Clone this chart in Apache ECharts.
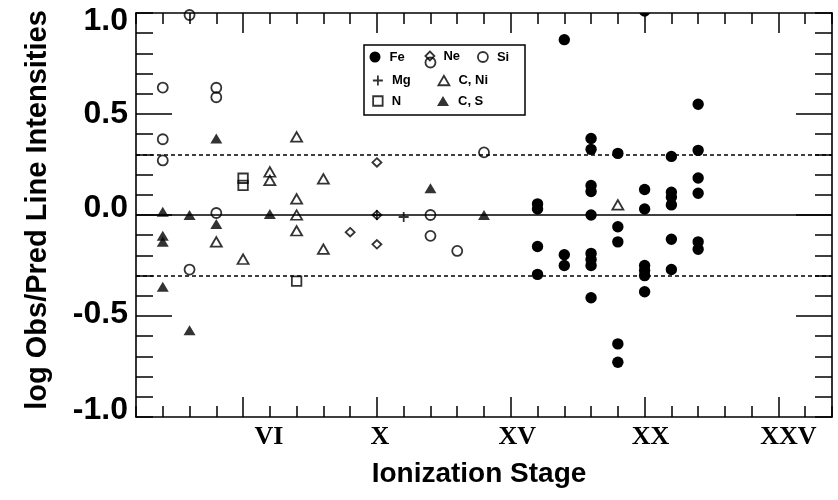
<!DOCTYPE html>
<html>
<head>
<meta charset="utf-8">
<script src="https://cdn.jsdelivr.net/npm/echarts@6/dist/echarts.min.js"></script>
<style>
  html, body { margin: 0; padding: 0; background: #fff; }
  #chart { width: 838px; height: 500px; }
</style>
</head>
<body>
<div id="chart"></div>
<script>
// log(observed / predicted) line intensity ratios, [ionization stage, ratio]
const feData = [
  [16, 0.055], [16, 0.03], [16, -0.156], [16, -0.294],
  [17, 0.868], [17, -0.197], [17, -0.25],
  [18, 0.379], [18, 0.325], [18, 0.146], [18, 0.116], [18, 0.0],
  [18, -0.19], [18, -0.22], [18, -0.25], [18, -0.41],
  [19, 0.305], [19, -0.058], [19, -0.133], [19, -0.638], [19, -0.729],
  [20, 1.01], [20, 0.126], [20, 0.03], [20, -0.25], [20, -0.275], [20, -0.30], [20, -0.38],
  [21, 0.29], [21, 0.113], [21, 0.088], [21, 0.05], [21, -0.12], [21, -0.27],
  [22, 0.548], [22, 0.32], [22, 0.183], [22, 0.108], [22, -0.133], [22, -0.17]
];
const neData = [[9, -0.085], [10, 0.26], [10, 0.0], [10, -0.145]];
const siData = [
  [2, 0.631], [2, 0.375], [2, 0.27], [3, 0.99], [3, -0.27],
  [4, 0.63], [4, 0.583], [4, 0.01], [12, 0.755], [12, 0.0], [12, -0.103],
  [13, -0.178], [14, 0.31]
];
const mgData = [[10, 0.0], [11, -0.01]];
const cNiData = [
  [4, -0.133], [5, -0.219], [6, 0.213], [6, 0.171], [7, 0.387], [7, 0.08],
  [7, 0.0], [7, -0.078], [8, 0.179], [8, -0.169], [19, 0.05]
];
const nData = [[5, 0.182], [5, 0.147], [7, -0.327]];
const cSData = [
  [2, 0.016], [2, -0.103], [2, -0.133], [2, -0.355], [3, 0.0], [3, -0.57],
  [4, 0.379], [4, -0.045], [6, 0.005], [12, 0.133], [14, 0.0]
];

// axis ticks and labels
const stageTicks = [6, 10, 15, 20, 25];
const stageLabels = ['VI', 'X', 'XV', 'XX', 'XXV'];
const majorStageTicks = [5, 10, 15, 20, 25];
const ratioTicks = [-1, -0.5, 0, 0.5, 1];
const majorRatioTicks = [-0.5, 0, 0.5];
const refLevels = [-0.3, 0, 0.3];

const INK = '#000';
const SANS = '"Liberation Sans", Arial, Helvetica, sans-serif';
const SERIF = '"Liberation Serif", "Times New Roman", serif';

// small per-label nudges (px) for the hand-placed tick labels
const stageShift = [-1, 3, 6.5, 6, 10];
const ratioShift = [-7, -2, -7, 0, 8];

const stageRich = {};
stageTicks.forEach((v, i) => {
  const s = stageShift[i];
  stageRich['s' + i] = { padding: s >= 0 ? [0, 0, 0, 2 * s] : [0, -2 * s, 0, 0] };
});
const ratioRich = {};
ratioTicks.forEach((v, i) => {
  const s = ratioShift[i];
  ratioRich['r' + i] = { padding: s >= 0 ? [2 * s, 0, 0, 0] : [0, 0, -2 * s, 0] };
});
const idxOf = (arr, v) => arr.findIndex(t => Math.abs(t - v) < 1e-9);

const lineStyle = { color: INK, width: 1.6 };
const tickStyle = { color: INK, width: 1.5 };
const X_RANGE = { min: 1, max: 27 };
const Y_RANGE = { min: -1, max: 1 };

function frameAxis(position, range, interval, tickLen, withLine) {
  return {
    type: 'value', position, ...range, interval,
    axisLine: { show: withLine, onZero: false, lineStyle },
    axisTick: { show: true, inside: true, length: tickLen, lineStyle: tickStyle },
    axisLabel: { show: false },
    splitLine: { show: false }
  };
}
function majorAxis(position, range, values, tickLen) {
  return {
    type: 'value', position, ...range,
    axisLine: { show: false, onZero: false },
    axisTick: { show: true, inside: true, length: tickLen, customValues: values, lineStyle: tickStyle },
    axisLabel: { show: false },
    splitLine: { show: false }
  };
}

const bottomAxis = frameAxis('bottom', X_RANGE, 1, 11, true);
bottomAxis.axisLabel = {
  show: true,
  customValues: stageTicks,
  margin: 7,
  fontFamily: SERIF, fontWeight: 'bold', fontSize: 26, color: INK,
  formatter: v => {
    const i = idxOf(stageTicks, v);
    return '{s' + i + '|' + stageLabels[i] + '}';
  },
  rich: stageRich
};
bottomAxis.name = 'Ionization Stage';
bottomAxis.nameLocation = 'middle';
bottomAxis.nameGap = 43;
bottomAxis.nameTextStyle = {
  fontFamily: SANS, fontWeight: 'bold', fontSize: 28, color: INK, padding: [0, 10, 0, 0]
};

const leftAxis = frameAxis('left', Y_RANGE, 0.1, 17, true);
leftAxis.axisLabel = {
  show: true,
  customValues: ratioTicks,
  margin: 8,
  fontFamily: SANS, fontWeight: 'bold', fontSize: 32, color: INK,
  formatter: v => {
    const i = idxOf(ratioTicks, v);
    return '{r' + i + '|' + v.toFixed(1) + '}';
  },
  rich: ratioRich
};
leftAxis.name = 'log Obs/Pred Line Intensities';
leftAxis.nameLocation = 'middle';
leftAxis.nameGap = 84;
leftAxis.nameTextStyle = {
  fontFamily: SANS, fontWeight: 'bold', fontSize: 29, color: INK, padding: [0, 0, 0, 10]
};

const hollow = { color: 'transparent', borderColor: INK, borderWidth: 1.8 };
const solid = { color: INK, borderWidth: 0 };
const PLUS = 'path://M0,5L10,5M5,0L5,10';

const legendText = {
  fontFamily: SANS, fontWeight: 'bold', fontSize: 13, color: INK,
  lineHeight: 14, padding: [0, 0, 0, 4]
};
function legendAt(name, cx, cy, icon, itemStyle, w, h) {
  return {
    data: [{ name, icon, itemStyle }],
    left: cx - w / 2, top: cy - 7,
    itemWidth: w, itemHeight: h,
    padding: 0, selectedMode: false,
    textStyle: legendText
  };
}

const option = {
  animation: false,
  backgroundColor: '#fff',
  grid: { left: 136, right: 6, top: 13, bottom: 83, containLabel: false },
  xAxis: [
    bottomAxis,
    majorAxis('bottom', X_RANGE, majorStageTicks, 20),
    frameAxis('top', X_RANGE, 1, 11, true),
    majorAxis('top', X_RANGE, majorStageTicks, 20)
  ],
  yAxis: [
    leftAxis,
    majorAxis('left', Y_RANGE, majorRatioTicks, 36),
    frameAxis('right', Y_RANGE, 0.1, 17, true),
    majorAxis('right', Y_RANGE, majorRatioTicks, 36)
  ],
  legend: [
    legendAt('Fe', 375, 57, 'circle', solid, 11, 11),
    legendAt('Ne', 429, 56, 'diamond', hollow, 9, 9),
    legendAt('Si', 482, 57, 'circle', hollow, 10, 10),
    legendAt('Mg', 377, 80.5, PLUS, hollow, 10, 10),
    legendAt('C, Ni', 443, 80.5, 'triangle', hollow, 11, 9.5),
    legendAt('N', 377, 101, 'rect', hollow, 9.5, 9.5),
    legendAt('C, S', 443, 101, 'triangle', solid, 12, 10)
  ],
  graphic: [{
    type: 'rect',
    shape: { x: 364, y: 45, width: 161, height: 70 },
    style: { fill: 'none', stroke: INK, lineWidth: 1.5 },
    silent: true
  }],
  series: [
    {
      name: 'Si', type: 'scatter', data: siData,
      symbol: 'circle', symbolSize: 10, itemStyle: hollow,
      markLine: {
        silent: true, symbol: ['none', 'none'], label: { show: false },
        data: refLevels.map(v => ({
          yAxis: v,
          lineStyle: { color: INK, width: 1.5, type: v === 0 ? 'solid' : [4, 3] }
        }))
      }
    },
    { name: 'Ne', type: 'scatter', data: neData, symbol: 'diamond', symbolSize: [9, 8.5], itemStyle: hollow },
    { name: 'Mg', type: 'scatter', data: mgData, symbol: PLUS, symbolSize: 10, itemStyle: hollow },
    { name: 'C, Ni', type: 'scatter', data: cNiData, symbol: 'triangle', symbolSize: [11, 9.5], itemStyle: hollow },
    { name: 'N', type: 'scatter', data: nData, symbol: 'rect', symbolSize: 9.5, itemStyle: hollow },
    { name: 'C, S', type: 'scatter', data: cSData, symbol: 'triangle', symbolSize: [12, 10], itemStyle: solid },
    {
      name: 'Fe', type: 'custom', data: feData, clip: true,
      encode: { x: 0, y: 1 },
      itemStyle: { color: INK },
      renderItem: (params, api) => {
        const p = api.coord([api.value(0), api.value(1)]);
        return { type: 'circle', shape: { cx: p[0], cy: p[1], r: 5.7 }, style: { fill: INK } };
      }
    }
  ]
};

const chart = echarts.init(document.getElementById('chart'));
chart.setOption(option);
</script>
</body>
</html>
